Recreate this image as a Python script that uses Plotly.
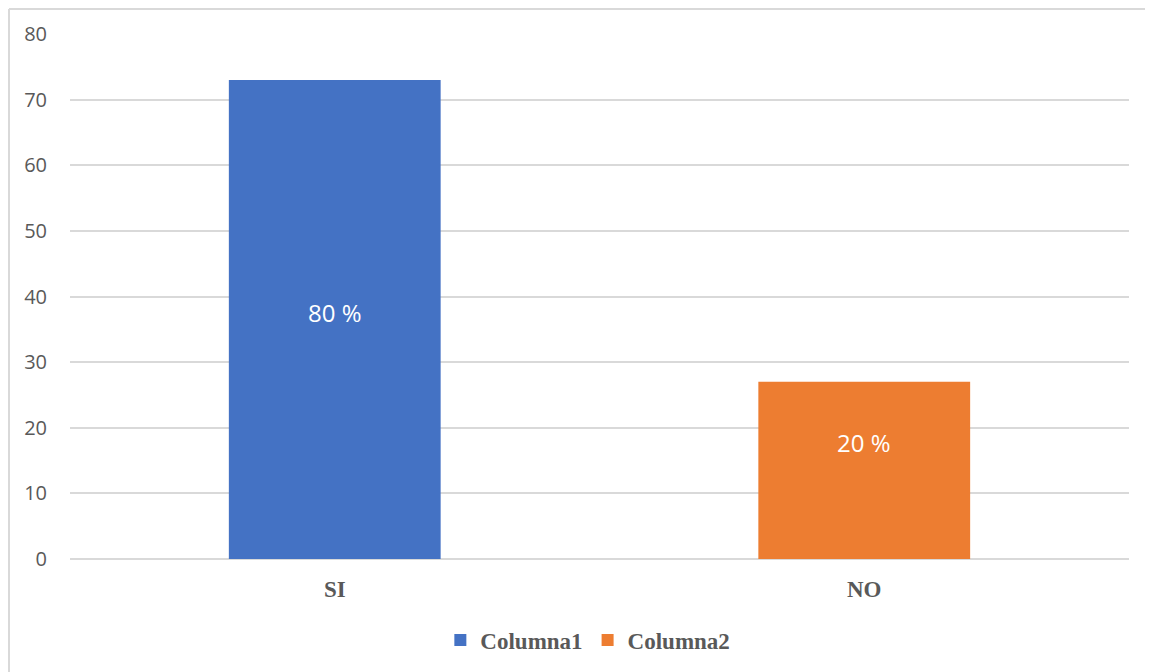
import plotly.graph_objects as go

categories = ["SI", "NO"]
series_names = ["Columna1", "Columna2"]
values = [73, 27]
labels = ["80 %", "20 %"]
label_y = [37.6, 17.8]
colors = ["#4472C4", "#ED7D31"]
y_ticks = [0, 10, 20, 30, 40, 50, 60, 70, 80]

# page body has an 8px margin; figure sized to fit the window
W, H = 1145, 664
ml, mt = 62, 26
pw, ph = 1059, 526
mr, mb = W - ml - pw, H - mt - ph

fig = go.Figure()
for cat, name, val, col in zip(categories, series_names, values, colors):
    fig.add_trace(go.Bar(x=[cat], y=[val], name="<b>" + name + "</b>",
                         marker=dict(color=col, line=dict(width=0)),
                         width=0.4, hoverinfo="skip"))

for cat, lab, ly in zip(categories, labels, label_y):
    fig.add_annotation(x=cat, y=ly, text=lab, showarrow=False, xref="x", yref="y",
                       font=dict(family="Open Sans", size=24, color="white"))

# outer chart border (left and top visible)
fig.add_shape(type="line", xref="paper", yref="paper",
              x0=(1 - ml) / pw, x1=(1 - ml) / pw,
              y0=(mt + ph - 700) / ph, y1=1 + (mt - 1) / ph,
              line=dict(color="#D9D9D9", width=2), layer="below")
fig.add_shape(type="line", xref="paper", yref="paper",
              x0=(1 - ml) / pw, x1=(1200 - ml) / pw,
              y0=1 + (mt - 1) / ph, y1=1 + (mt - 1) / ph,
              line=dict(color="#D9D9D9", width=2), layer="below")

fig.update_layout(
    width=W, height=H,
    margin=dict(l=ml, r=mr, t=mt, b=mb),
    paper_bgcolor="white", plot_bgcolor="white",
    barmode="overlay",
    showlegend=True,
    legend=dict(orientation="h", x=0.489, xanchor="center", y=-0.152, yanchor="middle",
                font=dict(family="Liberation Serif", size=23, color="#595959"),
                itemwidth=30, tracegroupgap=0, itemclick=False),
    xaxis=dict(categoryorder="array", categoryarray=categories, showgrid=False,
               showline=False, ticks="", ticklabelstandoff=14,
               tickfont=dict(family="Liberation Serif", size=23, color="#595959"),
               tickprefix="<b>", ticksuffix="</b>"),
    yaxis=dict(range=[0, 80], tickvals=y_ticks, showgrid=True, gridcolor="#D9D9D9",
               gridwidth=1.5, zeroline=True, zerolinecolor="#D9D9D9", zerolinewidth=2,
               showline=False, ticks="", ticklabelstandoff=22,
               tickfont=dict(family="Open Sans", size=20, color="#595959")),
)

fig.write_html("out.html")
